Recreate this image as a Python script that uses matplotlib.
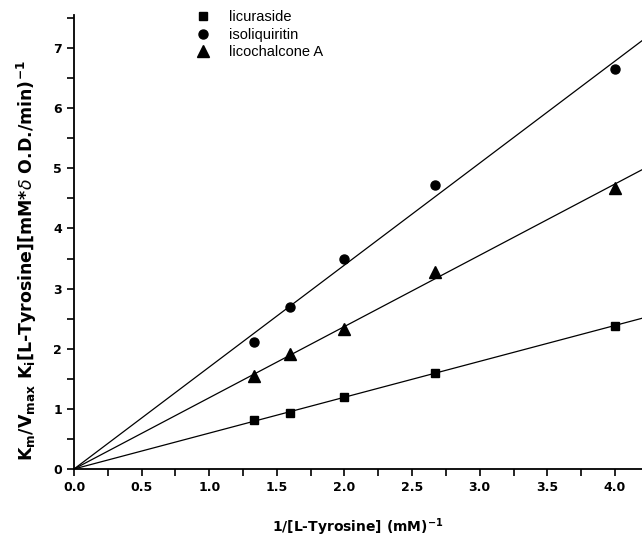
import numpy as np
import matplotlib
matplotlib.use("Agg")
import matplotlib.pyplot as plt
from matplotlib.ticker import MultipleLocator

# Lineweaver-Burk style data: 1/[L-Tyrosine] vs 1/v for each inhibitor
inv_substrate = np.array([1.333, 1.6, 2.0, 2.667, 4.0])
licuraside = np.array([0.82, 0.93, 1.20, 1.60, 2.38])
isoliquiritin = np.array([2.12, 2.70, 3.50, 4.72, 6.65])
licochalcone_a = np.array([1.55, 1.92, 2.33, 3.28, 4.68])

series_names = ["licuraside", "isoliquiritin", "licochalcone A"]
series_values = [licuraside, isoliquiritin, licochalcone_a]
series_markers = ["s", "o", "^"]
series_sizes = [6, 6.5, 8]

plt.rcParams["font.family"] = ["DejaVu Sans"]

fig = plt.figure(figsize=(6.42, 5.42), dpi=100)
ax = fig.add_axes([0.1153, 0.1347, 0.8847, 0.8376])

x_fit = np.linspace(0, 4.2, 50)
for name, y, m, ms in zip(series_names, series_values, series_markers, series_sizes):
    # straight line through the origin, least squares
    slope = np.sum(inv_substrate * y) / np.sum(inv_substrate ** 2)
    ax.plot(x_fit, slope * x_fit, color="black", lw=0.9)
    ax.plot(inv_substrate, y, linestyle="none", marker=m, ms=ms,
            color="black", label=name)

ax.set_xlim(0, 4.2)
ax.set_ylim(0, 7.55)
ax.xaxis.set_major_locator(MultipleLocator(0.5))
ax.xaxis.set_minor_locator(MultipleLocator(0.25))
ax.yaxis.set_major_locator(MultipleLocator(1))
ax.yaxis.set_minor_locator(MultipleLocator(0.5))
ax.tick_params(which="both", direction="out", width=1.2, color="black")
ax.tick_params(which="major", length=5, labelsize=9)
ax.tick_params(which="minor", length=5)
ax.set_xticklabels([f"{v:.1f}" for v in ax.get_xticks()], fontweight="bold")
ax.set_yticklabels([f"{int(v)}" for v in ax.get_yticks()], fontweight="bold")

for side in ("top", "right"):
    ax.spines[side].set_visible(False)
for side in ("left", "bottom"):
    ax.spines[side].set_linewidth(1.3)

ax.set_xlabel(r"1/[L-Tyrosine] (mM)$^{\mathbf{-1}}$", fontsize=10,
              fontweight="bold", labelpad=16)
ax.set_ylabel(r"K$_\mathregular{m}$/V$_\mathregular{max}$ K$_\mathregular{i}$[L-Tyrosine][mM*$\delta$ O.D./min)$^\mathregular{-1}$",
              fontsize=12.5, fontweight="bold")
ax.yaxis.set_label_coords(-0.062, 0.46)

ax.legend(loc="upper left", bbox_to_anchor=(0.178, 1.04), frameon=False,
          handletextpad=0.8, labelspacing=0.25,
          prop={"family": "Liberation Sans", "size": 10.5})

fig.savefig("out.png", dpi=100)
